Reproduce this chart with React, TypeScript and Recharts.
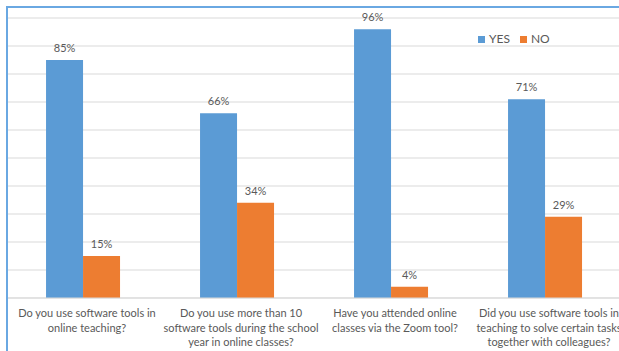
import React from 'react';
import { BarChart, Bar, XAxis, YAxis, CartesianGrid, Legend, LabelList } from 'recharts';

const categories = [
  'Do you use software tools in\nonline teaching?',
  'Do you use more than 10\nsoftware tools during the school\nyear in online classes?',
  'Have you attended online\nclasses via the Zoom tool?',
  'Did you use software tools in\nteaching to solve certain tasks\ntogether with colleagues?',
];
const yesValues = [85, 66, 96, 71];
const noValues = [15, 34, 4, 29];
const seriesNames = ['YES', 'NO'];
const yTicks = [0, 10, 20, 30, 40, 50, 60, 70, 80, 90, 100];

const data = categories.map((name, i) => ({ name, yes: yesValues[i], no: noValues[i] }));

const textColor = '#595959';
const font = 'Lato, "Open Sans", sans-serif';

function CategoryTick(props: any) {
  const { x, y, payload } = props;
  const lines = String(payload.value).split('\n');
  return (
    <text x={x + 4} y={y + 19} textAnchor="middle" fill={textColor} fontSize={11} fontFamily={font}>
      {lines.map((line, i) => (
        <tspan key={i} x={x + 4} dy={i === 0 ? 0 : 14.5}>
          {line}
        </tspan>
      ))}
    </text>
  );
}

export default function App() {
  return (
    <div
      style={{
        position: 'fixed',
        left: 0,
        top: 0,
        width: 619,
        height: 351,
        overflow: 'hidden',
        background: '#fff',
        fontFamily: font,
      }}
    >
      <div style={{ position: 'absolute', left: 0, top: 0 }}>
        <BarChart
          width={640}
          height={351}
          data={data}
          margin={{ top: 18, right: 18, left: 6, bottom: 0 }}
          barCategoryGap="26%"
          barGap={0}
        >
          <CartesianGrid vertical={false} stroke="#d9d9d9" />
          <YAxis hide domain={[0, 100]} ticks={yTicks} />
          <XAxis
            dataKey="name"
            height={53}
            tickSize={0}
            tickMargin={0}
            tickLine={false}
            axisLine={{ stroke: '#d9d9d9' }}
            tick={<CategoryTick />}
            interval={0}
          />
          <Legend
            layout="horizontal"
            verticalAlign="middle"
            align="center"
            iconType="square"
            iconSize={7}
            itemSorter={(item: any) => seriesNames.indexOf(item.value)}
            wrapperStyle={{ top: 31, left: 478, width: 'auto', fontSize: 12 }}
            formatter={(value: string) => <span style={{ color: textColor }}>{value}</span>}
          />
          <Bar dataKey="yes" name={seriesNames[0]} fill="#5b9bd5" isAnimationActive={false}>
            <LabelList
              dataKey="yes"
              position="top"
              offset={8}
              fill={textColor}
              fontSize={11}
              formatter={(v: any) => `${v}%`}
            />
          </Bar>
          <Bar dataKey="no" name={seriesNames[1]} fill="#ed7d31" isAnimationActive={false}>
            <LabelList
              dataKey="no"
              position="top"
              offset={8}
              fill={textColor}
              fontSize={11}
              formatter={(v: any) => `${v}%`}
            />
          </Bar>
        </BarChart>
      </div>
      <div
        style={{
          position: 'absolute',
          left: 6,
          top: 6,
          width: 700,
          height: 400,
          borderLeft: '2px solid #6aa8e2',
          borderTop: '2px solid #6aa8e2',
          pointerEvents: 'none',
          zIndex: 2,
        }}
      />
    </div>
  );
}
